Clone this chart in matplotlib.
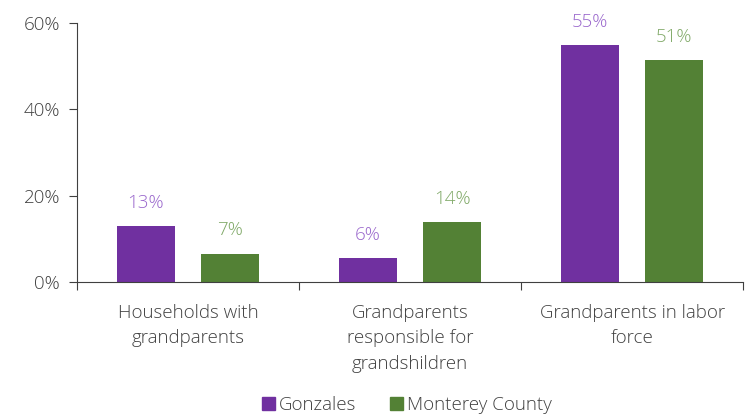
import numpy as np
import matplotlib.pyplot as plt
from matplotlib.patches import Patch

categories = ['Households with\ngrandparents',
              'Grandparents\nresponsible for\ngrandshildren',
              'Grandparents in labor\nforce']
gonzales = [13.0, 5.6, 54.9]
monterey = [6.6, 13.8, 51.4]
gonzales_labels = ['13%', '6%', '55%']
monterey_labels = ['7%', '14%', '51%']
yticks = [0, 20, 40, 60]

purple = '#7030A0'
green = '#538135'
purple_txt = '#9966CC'
green_txt = '#7FA866'
axis_col = '#404040'

plt.rcParams['font.family'] = ['Open Sans', 'DejaVu Sans']
plt.rcParams['font.weight'] = 'light'

fig = plt.figure(figsize=(7.53, 4.16), dpi=100)
ax = fig.add_axes([0.102, 0.322, 0.885, 0.623])

x = np.arange(len(categories))
w = 0.26
off = 0.19
ax.bar(x - off, gonzales, w, color=purple)
ax.bar(x + off, monterey, w, color=green)

for i in range(len(categories)):
    ax.text(x[i] - off, gonzales[i] + 3.3, gonzales_labels[i], ha='center', va='bottom',
            color=purple_txt, fontsize=13.5)
    ax.text(x[i] + off, monterey[i] + 3.3, monterey_labels[i], ha='center', va='bottom',
            color=green_txt, fontsize=13.5)

ax.set_xlim(-0.5, 2.5)
ax.set_ylim(0, 60)
ax.set_yticks(yticks)
ax.set_yticklabels([f'{t}%' for t in yticks], fontsize=13.5, color=axis_col)
ax.tick_params(axis='y', length=6, color=axis_col, pad=6)

ax.set_xticks([-0.5, 0.5, 1.5, 2.5])
ax.set_xticklabels([])
ax.tick_params(axis='x', length=6, color=axis_col)
for i, c in enumerate(categories):
    ax.text(x[i], -5.0, c, ha='center', va='top', fontsize=13.5, color=axis_col,
            linespacing=1.55)

for s in ['top', 'right']:
    ax.spines[s].set_visible(False)
for s in ['left', 'bottom']:
    ax.spines[s].set_color(axis_col)

handles = [Patch(color=purple, label='Gonzales'), Patch(color=green, label='Monterey County')]
leg = fig.legend(handles=handles, loc='center', bbox_to_anchor=(0.54, 0.027), ncol=2,
                 frameon=False, fontsize=13.5, handlelength=0.7, handleheight=0.7,
                 handletextpad=0.2, columnspacing=1.8)
for t in leg.get_texts():
    t.set_color(axis_col)

fig.savefig('out.png', dpi=100)
